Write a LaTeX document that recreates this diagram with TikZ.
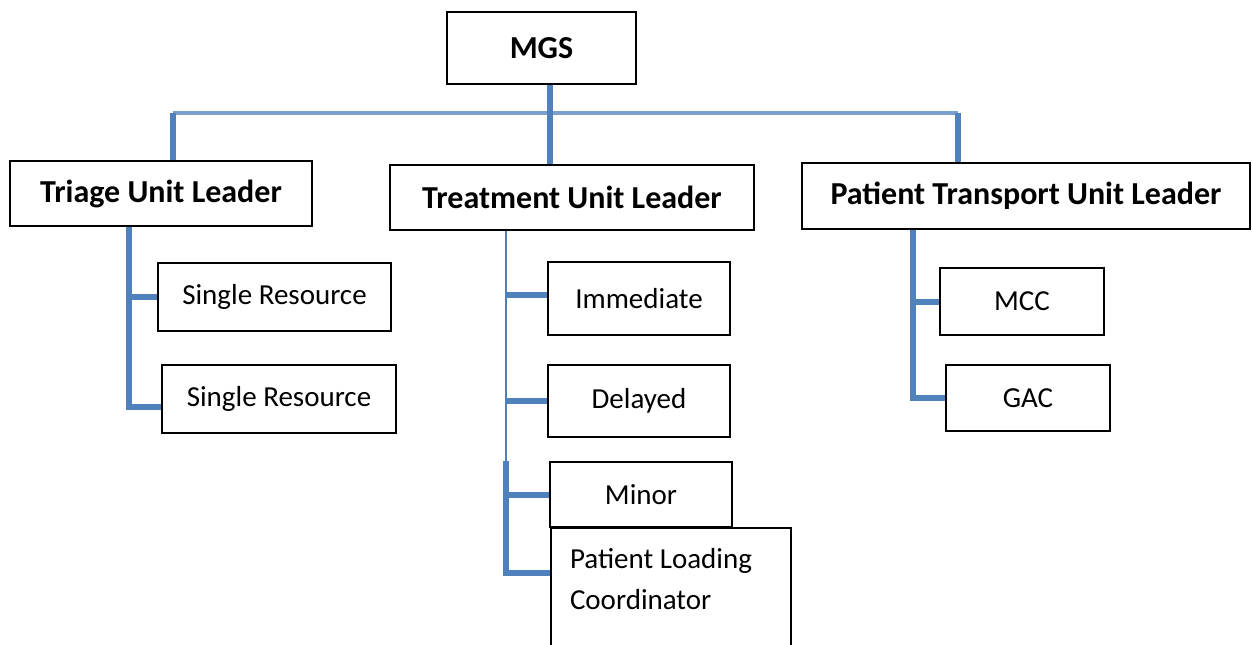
\documentclass[tikz,border=0pt]{standalone}
\usepackage{fontspec}
\setmainfont{Carlito}

\definecolor{linkblue}{HTML}{4F81BD}

\tikzset{
  box/.style={draw=black, line width=1pt, fill=white, rectangle,
    font=\fontsize{14.5}{20.5}\selectfont},
  headbox/.style={box, font=\bfseries\fontsize{16}{19}\selectfont},
  link/.style={draw=linkblue, line width=3pt},
  thinlink/.style={draw=linkblue, line width=1.2pt},
  bus/.style={draw=linkblue!75, line width=2pt}
}

\begin{document}
\begin{tikzpicture}[x=0.5pt, y=-0.5pt]
  \useasboundingbox (0,0) rectangle (1252,644);

  % Top of the chart
  \node[headbox, minimum width=94.5pt, minimum height=36pt] (mgs) at (541.5,48) {MGS};

  % Unit leaders
  \node[headbox, minimum width=151pt, minimum height=32.5pt] (triage) at (161,193.5) {Triage Unit Leader};
  \node[headbox, minimum width=182pt, minimum height=32.5pt] (treat) at (572,197.5) {Treatment Unit Leader};
  \node[headbox, minimum width=224pt, minimum height=33pt] (transport) at (1026,196) {Patient Transport Unit Leader};

  % Triage unit
  \node[box, minimum width=116.5pt, minimum height=34pt] (single1) at (274.5,297) {Single Resource};
  \node[box, minimum width=117pt, minimum height=34pt] (single2) at (279,399) {Single Resource};

  % Treatment unit
  \node[box, minimum width=91pt, minimum height=36.5pt] (immediate) at (639,298.5) {Immediate};
  \node[box, minimum width=91pt, minimum height=36pt] (delayed) at (639,401) {Delayed};
  \node[box, minimum width=91pt, minimum height=32.5pt] (minor) at (641,494.5) {Minor};
  \node[box, anchor=north west, text width=101pt, align=flush left, inner xsep=9.5pt,
        inner ysep=10pt, text depth=40pt] (loading) at (550,527) {Patient Loading\\Coordinator};

  % Patient transport unit
  \node[box, minimum width=82pt, minimum height=33.5pt] (mcc) at (1022,301.5) {MCC};
  \node[box, minimum width=82pt, minimum height=33pt] (gac) at (1028,398) {GAC};

  % Bus from MGS to the unit leaders
  \coordinate (bus) at (549,113);
  \draw[bus] ([xshift=6pt]triage.north |- bus) -- ([xshift=-34pt]transport.north |- bus);
  \draw[link] ([xshift=4pt]mgs.south) -- ([xshift=4pt]mgs.south |- treat.north);
  \draw[link] ([xshift=6pt]triage.north) -- ([xshift=6pt]triage.north |- bus);
  \draw[link] ([xshift=-34pt]transport.north) -- ([xshift=-34pt]transport.north |- bus);

  % Triage branches
  \draw[link] ([xshift=-16pt]triage.south) |- (single1.west);
  \draw[link] ([xshift=-16pt]triage.south) |- ([yshift=-4pt]single2.west);

  % Treatment branches
  \coordinate (tspine) at ([xshift=-33pt]treat.south);
  \coordinate (immend) at ([yshift=2pt]immediate.west);
  \draw[thinlink] (tspine) -- (tspine |- minor.north);
  \draw[link] (tspine |- minor.north) |- ([yshift=-23pt]loading.north west);
  \draw[link] (tspine |- immend) -- (immend);
  \draw[link] (tspine |- delayed.west) -- (delayed.west);
  \draw[link] (tspine |- minor.west) -- (minor.west);

  % Patient transport branches
  \draw[link] ([xshift=-56.5pt]transport.south) |- (mcc.west);
  \draw[link] ([xshift=-56.5pt]transport.south) |- (gac.west);
\end{tikzpicture}
\end{document}
